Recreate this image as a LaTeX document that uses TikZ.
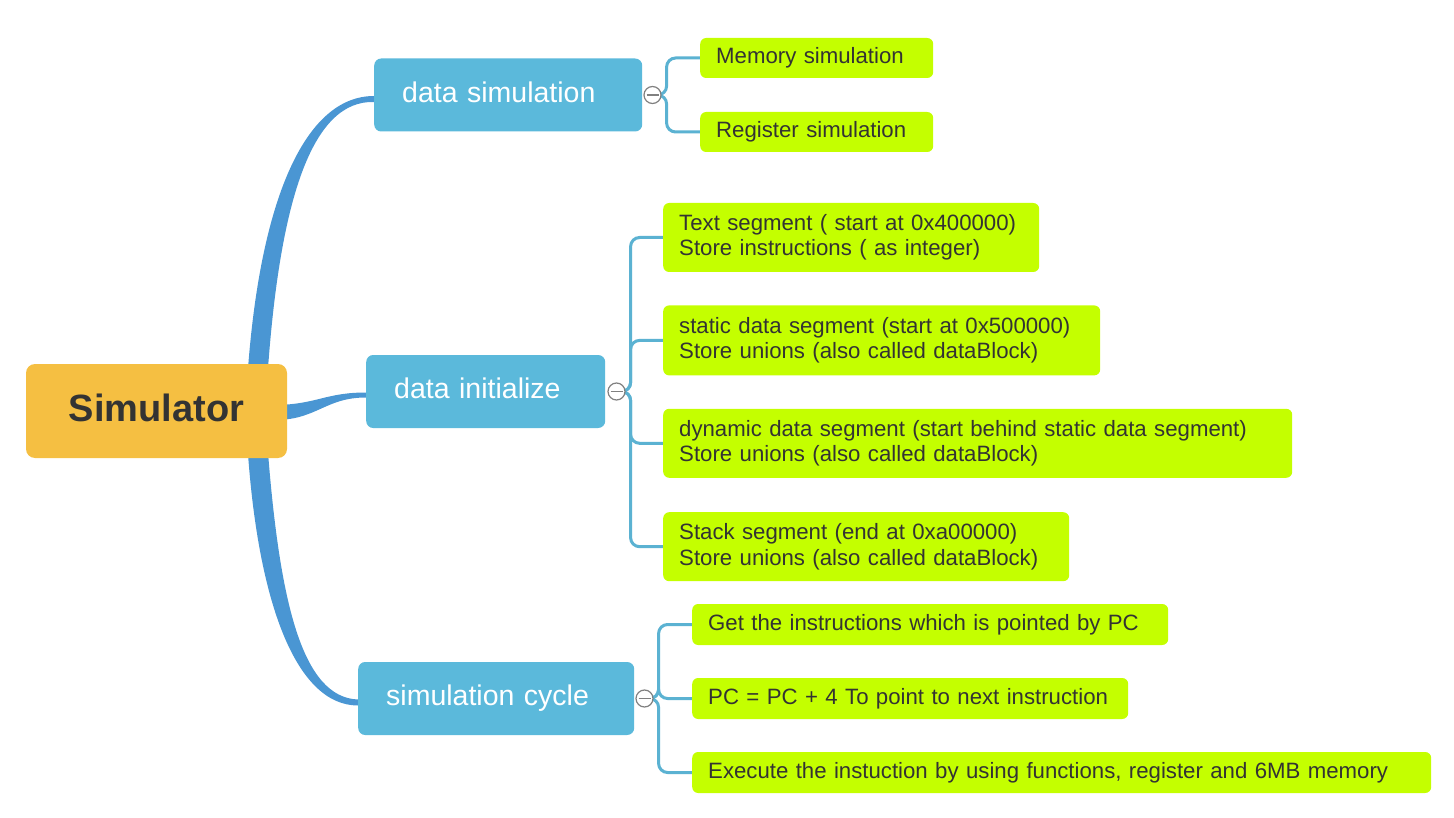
\documentclass[tikz,border=0pt]{standalone}
\usepackage{fontspec}
\setmainfont{Liberation Sans}
\usepackage{tikz}
\usetikzlibrary{
  positioning,
  calc,
  backgrounds
}
\usepackage{xcolor}
\definecolor{rootOrange}{HTML}{F5BF42}
\definecolor{topicBlue}{HTML}{5BB9DB}
\definecolor{trunkBlue}{HTML}{4A96D3}
\definecolor{branchBlue}{HTML}{5BB2D2}
\definecolor{leafGreen}{HTML}{C4FF00}
\definecolor{inkGray}{HTML}{333333}
\tikzset{
  root/.style={
    fill=rootOrange,
    rounded corners=9,
    minimum width=261,
    minimum height=94,
    text=inkGray,
    font=\fontsize{38}{44}\selectfont\bfseries
  },
  topic/.style={
    fill=topicBlue,
    rounded corners=7,
    minimum height=73,
    inner xsep=28,
    align=left,
    text=white,
    font=\fontsize{28.5}{33}\selectfont
  },
  leaf/.style={
    fill=leafGreen,
    rounded corners=6,
    inner xsep=16,
    inner ysep=0,
    align=left,
    text=inkGray,
    font=\fontsize{22.2}{25.5}\selectfont
  },
  collapse/.style={
    circle,
    draw=gray,
    fill=white,
    line width=1.2,
    minimum size=17,
    inner sep=0pt,
    path picture={
      \draw[gray,line width=1.2]
        ([xshift=-6]path picture bounding box.center) --
        ([xshift=6]path picture bounding box.center);
    }
  },
  branch/.style={
    draw=branchBlue,
    line width=3,
    rounded corners=9
  },
  trunk/.style={
    fill=trunkBlue
  }
}
\begin{document}
\begin{tikzpicture}[x=1pt,y=-1pt]
  \useasboundingbox (0,0) rectangle (1454,818);

  % main topics
  \node[root, text depth=6pt] (sim) at (156.5,411) {Simulator};
  \node[topic, text width=212, text depth=6pt, anchor=west] (dsim) at (374,95) {data simulation};
  \node[topic, text width=183, text depth=6pt, anchor=west] (dini) at (366,391.5) {data initialize};
  \node[topic, text width=220, text depth=6pt, anchor=west] (scyc) at (358,698.5) {simulation cycle};

  % collapse buttons
  \node[collapse, right=1pt of dsim] (cDsim) {};
  \node[collapse, right=2pt of dini] (cDini) {};
  \node[collapse, right=1pt of scyc] (cScyc) {};

  % data simulation leaves
  \node[leaf, text width=201, minimum height=40, anchor=west] (mem) at (700,58) {Memory simulation};
  \node[leaf, text width=201, minimum height=40, anchor=west] (reg) at (700,132) {Register simulation};

  % data initialize leaves
  \node[leaf, text width=344, minimum height=69, anchor=west] (txt) at (663,237.5)
    {Text segment ( start at 0x400000)\\Store instructions ( as integer)};
  \node[leaf, text width=405, minimum height=70, below=33pt of txt.south west, anchor=north west] (sta)
    {static data segment (start at 0x500000)\\Store unions (also called dataBlock)};
  \node[leaf, text width=597, minimum height=69, below=33pt of sta.south west, anchor=north west] (dyn)
    {dynamic data segment (start behind static data segment)\\Store unions (also called dataBlock)};
  \node[leaf, text width=374, minimum height=69, below=34pt of dyn.south west, anchor=north west] (stk)
    {Stack segment (end at 0xa00000)\\Store unions (also called dataBlock)};

  % simulation cycle leaves
  \node[leaf, text width=444, minimum height=41, anchor=west] (get) at (692,624.5) {Get the instructions which is pointed by PC};
  \node[leaf, text width=404, minimum height=41, anchor=west] (pcn) at (692,698.5) {PC = PC + 4 To point to next instruction};
  \node[leaf, text width=707, minimum height=41, anchor=west] (exe) at (692,772.5)
    {Execute the instuction by using functions, register and 6MB memory};

  \begin{pgfonlayer}{background}
    % tapered trunks
    \fill[trunk] ([xshift=-40,yshift=-16]sim.north east)
      .. controls +(12,-180) and +(-69,0) .. ([yshift=-1]dsim.west)
      -- ([yshift=-7]dsim.west)
      .. controls +(-62,-2) and +(12,-180) .. ([xshift=-20,yshift=-16]sim.north east)
      -- cycle;
    \fill[trunk] ([xshift=-10,yshift=6]sim.east)
      .. controls +(40,-1) and +(-40,0) .. ([yshift=-1]dini.west)
      -- ([yshift=-6]dini.west)
      .. controls +(-40,0) and +(40,-1) .. ([xshift=-10,yshift=-9]sim.east)
      -- cycle;
    \fill[trunk] ([xshift=-40,yshift=16]sim.south east)
      .. controls +(10,160) and +(-62,0) .. ([yshift=-7]scyc.west)
      -- ([yshift=-1]scyc.west)
      .. controls +(-56,-2) and +(12,160) .. ([xshift=-20,yshift=16]sim.south east)
      -- cycle;

    % branches
    \foreach \leafname in {mem,reg}{
      \draw[branch] (cDsim.east) -- ++(5,0) |- (\leafname.west);
    }
    \foreach \leafname in {txt,sta,dyn,stk}{
      \draw[branch] (cDini.east) -- ++(5,0) |- (\leafname.west);
    }
    \foreach \leafname in {get,pcn,exe}{
      \draw[branch] (cScyc.east) -- ++(5,0) |- (\leafname.west);
    }
  \end{pgfonlayer}
\end{tikzpicture}
\end{document}
